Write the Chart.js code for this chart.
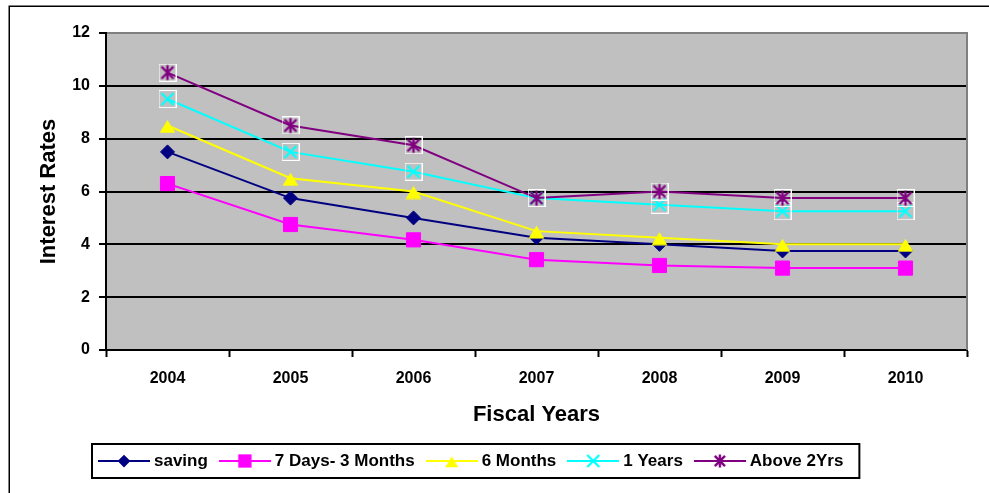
<!DOCTYPE html>
<html>
<head>
<meta charset="utf-8">
<script src="https://cdn.jsdelivr.net/npm/chart.js@4.4.1/dist/chart.umd.min.js"></script>
<style>
  html, body { margin: 0; padding: 0; background: #fff; }
  #wrap { width: 989px; height: 493px; position: relative; }
</style>
</head>
<body>
<div id="wrap"><canvas id="c" width="989" height="493"></canvas></div>
<script>
// Interest rates by fiscal year
const years = ['2004', '2005', '2006', '2007', '2008', '2009', '2010'];
const saving = [7.5, 5.75, 5.0, 4.25, 4.0, 3.75, 3.75];
const days7to3m = [6.3, 4.75, 4.17, 3.42, 3.2, 3.1, 3.1];
const months6 = [8.5, 6.5, 6.0, 4.5, 4.25, 4.0, 4.0];
const years1 = [9.5, 7.5, 6.75, 5.75, 5.5, 5.25, 5.25];
const above2 = [10.5, 8.5, 7.75, 5.75, 6.0, 5.75, 5.75];
const yTicks = [0, 2, 4, 6, 8, 10, 12];

const FONT = "'Liberation Sans', Arial, sans-serif";
const NAVY = '#000080', MAGENTA = '#FF00FF', YELLOW = '#FFFF00', CYAN = '#00FFFF', PURPLE = '#800080';

// ---- marker glyphs -------------------------------------------------------
function drawDiamond(g, cx, cy, s, color) {
  const r = 7.5 * s;
  g.fillStyle = color;
  g.beginPath();
  g.moveTo(cx, cy - r); g.lineTo(cx + r, cy); g.lineTo(cx, cy + r); g.lineTo(cx - r, cy);
  g.closePath(); g.fill();
}
function drawSquare(g, cx, cy, s, color) {
  const r = 7 * s;
  g.fillStyle = color;
  g.fillRect(cx - r, cy - r, 2 * r, 2 * r);
}
function drawTriangle(g, cx, cy, s, color) {
  const hw = 8 * s, up = 5.5 * s, down = 7.5 * s;
  g.fillStyle = color;
  g.beginPath();
  g.moveTo(cx, cy - up); g.lineTo(cx + hw, cy + down); g.lineTo(cx - hw, cy + down);
  g.closePath(); g.fill();
}
function drawCross(g, cx, cy, s, color) {
  const r = 6 * s;
  g.strokeStyle = color; g.lineWidth = 2.2;
  g.beginPath();
  g.moveTo(cx - r, cy - r); g.lineTo(cx + r, cy + r);
  g.moveTo(cx + r, cy - r); g.lineTo(cx - r, cy + r);
  g.stroke();
}
function drawStar(g, cx, cy, s, color) {
  const r = 6 * s;
  g.strokeStyle = color; g.lineWidth = 2.4;
  g.beginPath();
  g.moveTo(cx - r, cy - r); g.lineTo(cx + r, cy + r);
  g.moveTo(cx + r, cy - r); g.lineTo(cx - r, cy + r);
  g.moveTo(cx, cy - r - 1.5); g.lineTo(cx, cy + r + 1.5);
  g.stroke();
}

// point image with optional white frame (plot markers)
function pointImage(drawFn, color, framed, w, h) {
  const c = document.createElement('canvas');
  c.width = w; c.height = h;
  const g = c.getContext('2d');
  if (framed) {
    g.strokeStyle = '#ffffff'; g.lineWidth = 1;
    g.strokeRect(0.5, 0.5, w - 1, h - 1);
  }
  drawFn(g, w / 2, h / 2, 1, color);
  return c;
}

// legend icon: short line segment with the marker in the middle
function legendIcon(drawFn, color, scale) {
  const c = document.createElement('canvas');
  c.width = 52; c.height = 16;
  const g = c.getContext('2d');
  g.strokeStyle = color; g.lineWidth = 2;
  g.beginPath(); g.moveTo(0, 8); g.lineTo(52, 8); g.stroke();
  drawFn(g, 26, 8, scale, color);
  return c;
}

const triImg = pointImage(drawTriangle, YELLOW, false, 17, 16);
const crossImg = pointImage(drawCross, CYAN, true, 18, 18);
const starImg = pointImage(drawStar, PURPLE, true, 18, 18);

const legendIcons = [
  legendIcon(drawDiamond, NAVY, 0.85),
  legendIcon(drawSquare, MAGENTA, 0.95),
  legendIcon(drawTriangle, YELLOW, 0.82),
  legendIcon(drawCross, CYAN, 1.0),
  legendIcon(drawStar, PURPLE, 0.85)
];

// ---- layout constants ---------------------------------------------------
const LEGEND_START_X = 102.5;

const framePlugin = {
  id: 'frame',
  afterLayout(chart) {
    const lg = chart.legend;
    if (!lg || !lg.lineWidths) return;
    const p = lg.options.labels.padding;
    const x0 = (lg.left + p + lg.right - lg.lineWidths[0]) / 2;
    const dx = LEGEND_START_X - x0;
    lg.left += dx; lg.right += dx;
  },
  beforeDraw(chart) {
    const { ctx, chartArea: a } = chart;
    ctx.save();
    // outer chart border
    ctx.strokeStyle = '#000'; ctx.lineWidth = 1.5;
    ctx.strokeRect(9.25, 6.25, 2000, 2000);
    // plot area
    ctx.fillStyle = '#C0C0C0';
    ctx.fillRect(a.left, a.top, a.right - a.left, a.bottom - a.top);
    ctx.restore();
  },
  beforeDatasetsDraw(chart) {
    const { ctx, chartArea: a } = chart;
    ctx.save();
    ctx.strokeStyle = '#808080'; ctx.lineWidth = 2;
    ctx.beginPath();
    ctx.moveTo(a.right, a.top - 1); ctx.lineTo(a.right, a.bottom);
    ctx.stroke();
    ctx.restore();
  },
  afterDraw(chart) {
    const lg = chart.legend;
    if (!lg || !lg.legendHitBoxes || !lg.legendHitBoxes.length) return;
    const hb = lg.legendHitBoxes;
    const first = hb[0], last = hb[hb.length - 1];
    const cy = first.top + first.height / 2;
    const left = first.left - 10.5;
    const right = last.left + last.width + 16;
    const ctx = chart.ctx;
    ctx.save();
    ctx.strokeStyle = '#000'; ctx.lineWidth = 2;
    ctx.strokeRect(left, cy - 17, right - left, 34);
    ctx.restore();
  }
};

function series(label, data, color, style, radius, order) {
  return {
    label, data, order,
    borderColor: color,
    backgroundColor: color,
    borderWidth: 2,
    pointStyle: style,
    pointRadius: radius,
    pointBorderWidth: 1,
    pointBorderColor: color,
    pointBackgroundColor: color,
    tension: 0,
    fill: false
  };
}

new Chart(document.getElementById('c'), {
  type: 'line',
  data: {
    labels: years,
    datasets: [
      series('saving', saving, NAVY, 'rectRot', 7, 5),
      series('7 Days- 3 Months', days7to3m, MAGENTA, 'rect', 10, 4),
      series('6 Months', months6, YELLOW, triImg, 8, 3),
      series('1 Years', years1, CYAN, crossImg, 9, 2),
      series('Above 2Yrs', above2, PURPLE, starImg, 9, 1)
    ]
  },
  options: {
    responsive: false,
    animation: false,
    events: [],
    layout: { padding: { left: 10, right: 22, top: 33, bottom: 13.5 } },
    plugins: {
      tooltip: { enabled: false },
      legend: {
        position: 'bottom',
        align: 'center',
        labels: {
          usePointStyle: true,
          pointStyleWidth: 43,
          padding: 15.5,
          color: '#000',
          font: { family: FONT, size: 17, weight: 'bold' },
          generateLabels(chart) {
            const items = Chart.defaults.plugins.legend.labels.generateLabels(chart);
            items.forEach(it => { it.pointStyle = legendIcons[it.datasetIndex]; it.lineWidth = 0; });
            return items.sort((a, b) => a.datasetIndex - b.datasetIndex);
          }
        }
      }
    },
    scales: {
      x: {
        type: 'category',
        offset: true,
        afterFit(scale) { scale.height = 87; },
        grid: {
          display: true,
          offset: true,
          drawOnChartArea: false,
          drawTicks: true,
          tickLength: 7,
          tickWidth: 2,
          tickColor: '#000'
        },
        border: { display: true, color: '#000', width: 2 },
        ticks: {
          color: '#000',
          padding: 12,
          maxRotation: 0,
          font: { family: FONT, size: 16, weight: 'bold' }
        },
        title: {
          display: true,
          text: 'Fiscal Years',
          color: '#000',
          padding: { top: 0, bottom: 9.3 },
          font: { family: FONT, size: 22, weight: 'bold' }
        }
      },
      y: {
        min: 0,
        max: 12,
        afterBuildTicks(scale) { scale.ticks = yTicks.map(v => ({ value: v })); },
        afterFit(scale) { scale.width = 96; },
        grid: {
          color: ctx => (ctx.tick && ctx.tick.value === 12 ? '#808080' : '#000'),
          lineWidth: 2,
          drawTicks: true,
          tickLength: 7,
          tickWidth: 2,
          tickColor: '#000'
        },
        border: { display: true, color: '#000', width: 2 },
        ticks: {
          color: '#000',
          padding: 9,
          font: { family: FONT, size: 16, weight: 'bold' }
        },
        title: {
          display: true,
          text: 'Interest Rates',
          color: '#000',
          padding: { top: 26, bottom: 0 },
          font: { family: FONT, size: 22, weight: 'bold' }
        }
      }
    }
  },
  plugins: [framePlugin]
});
</script>
</body>
</html>
